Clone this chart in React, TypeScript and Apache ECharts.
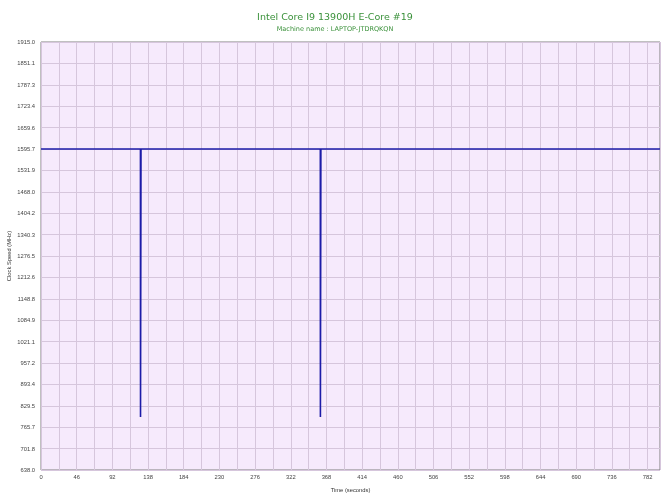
import React, { useEffect, useRef } from "react";
import * as echarts from "echarts";

const titleText = "Intel Core I9 13900H E-Core #19";
const subtitleText = "Machine name : LAPTOP-JTDRQKQN";
const yBase = 638.0;
const yTop = 1915.0;
const yStep = 63.85;
const yTickLabels = ["638.0", "701.8", "765.7", "829.5", "893.4", "957.2", "1021.1", "1084.9", "1148.8", "1212.6", "1276.5", "1340.3", "1404.2", "1468.0", "1531.9", "1595.7", "1659.6", "1723.4", "1787.3", "1851.1", "1915.0"];
const xMax = 798;
const xLabelStep = 46;
const xGridStep = 23;
const times = [0, 128.2, 128.3, 128.5, 128.7, 128.9, 360.1, 360.2, 360.4, 360.6, 360.8, 798];
const clockMHz = [1595.7, 1595.7, 796, 1078, 1315, 1595.7, 1595.7, 796, 1078, 1315, 1595.7, 1595.7];

export default function App() {
  const ref = useRef<HTMLDivElement>(null);
  useEffect(() => {
    if (!ref.current) return;
    const chart = echarts.init(ref.current, null, { renderer: "svg" });
    const data = times.map((t, i) => [t, clockMHz[i] - yBase]);
    const titleFont = "DejaVu Sans, Verdana, sans-serif";
    const font = "Liberation Sans, Arial, sans-serif";
    chart.setOption({
      animation: false,
      title: [
        { text: titleText, left: "center", top: 6, textStyle: { color: "#3a913a", fontSize: 9.5, fontWeight: "normal", fontFamily: titleFont } },
        { text: subtitleText, left: "center", top: 20, textStyle: { color: "#3a913a", fontSize: 6.5, fontWeight: "normal", fontFamily: titleFont } },
      ],
      grid: {
        left: 41, right: 10, top: 42, bottom: 33, show: true, containLabel: false, outerBoundsMode: "none",
        backgroundColor: "#f6eafc", borderColor: "#808080", borderWidth: 1,
      },
      xAxis: [
        {
          type: "value", min: 0, max: xMax, interval: xLabelStep,
          name: "Time (seconds)", nameLocation: "middle", nameGap: 17, nameMoveOverlap: false,
          nameTextStyle: { fontSize: 5.8, color: "#333", fontFamily: font },
          axisLine: { show: false }, axisTick: { show: false },
          axisLabel: { fontSize: 5.8, color: "#444", margin: 4, showMaxLabel: false, fontFamily: font },
          splitLine: { show: false },
        },
        {
          type: "value", min: 0, max: xMax, interval: xGridStep, position: "bottom",
          axisLine: { show: false }, axisTick: { show: false }, axisLabel: { show: false },
          splitLine: { show: true, lineStyle: { color: "#d6c6dc", width: 1 } },
        },
      ],
      yAxis: {
        type: "value", min: 0, max: yTop - yBase, interval: yStep,
        name: "Clock Speed (MHz)", nameLocation: "middle", nameGap: 29, nameMoveOverlap: false,
        nameTextStyle: { fontSize: 5.8, color: "#333", fontFamily: font },
        axisLine: { show: false }, axisTick: { show: false },
        axisLabel: {
          fontSize: 5.8, color: "#444", margin: 6, fontFamily: font,
          formatter: (v: number) => yTickLabels[Math.round(v / yStep)] ?? "",
        },
        splitLine: { show: true, lineStyle: { color: "#d6c6dc", width: 1 } },
      },
      series: [
        {
          type: "line", data, xAxisIndex: 0, showSymbol: false, symbol: "none",
          lineStyle: { color: "#1c1ca8", width: 1.6 }, z: 5,
        },
      ],
    });
    return () => chart.dispose();
  }, []);
  return <div ref={ref} style={{ position: "fixed", left: 0, top: 0, width: 670, height: 503 }} />;
}
